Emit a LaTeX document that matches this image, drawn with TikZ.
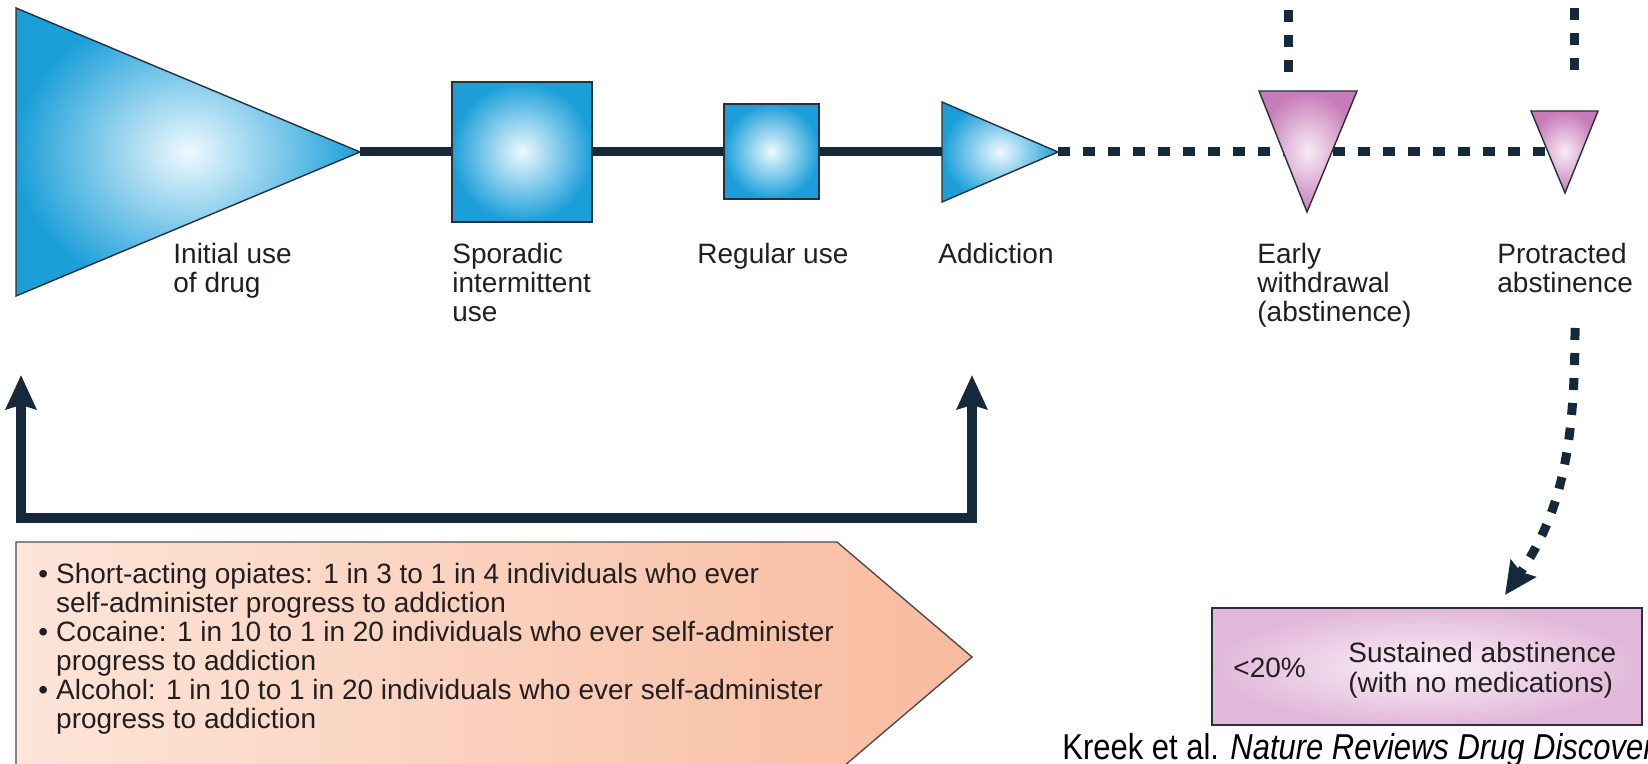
\documentclass[tikz,border=0pt]{standalone}
\usepackage{fontspec}
\setmainfont{Liberation Sans}
\newfontfamily\citefont{Liberation Sans}[FakeStretch=0.86]
\usetikzlibrary{arrows.meta}

\definecolor{ink}{HTML}{16293A}
\definecolor{edge}{HTML}{2A2F36}
\definecolor{blueout}{HTML}{1C9FD9}
\definecolor{bluein}{HTML}{EEF9FE}
\definecolor{pinkout}{HTML}{C77BB8}
\definecolor{pinkin}{HTML}{F8EDF6}
\definecolor{boxout}{HTML}{E2B8DA}
\definecolor{boxin}{HTML}{FAF1F8}
\definecolor{peachleft}{HTML}{FDE5D9}
\definecolor{peachright}{HTML}{F8BB9F}
\definecolor{txt}{HTML}{231F20}

\tikzset{
  bluestage/.style={draw=edge, line width=0.7pt, inner color=bluein, outer color=blueout},
  pinkstage/.style={draw=edge, line width=0.7pt, inner color=pinkin, outer color=pinkout},
  solidlink/.style={draw=ink, line width=4.5pt},
  dashlink/.style={draw=ink, line width=4.5pt, dash pattern=on 6pt off 6.5pt},
  stagetext/.style={anchor=north west, inner sep=0pt, align=left, text=txt,
    font=\fontsize{14}{14.5}\selectfont},
  feedback/.style={draw=ink, line width=5pt, line join=miter,
    {Stealth[length=17pt,width=15pt,inset=2pt]}-{Stealth[length=17pt,width=15pt,inset=2pt]}},
}

\begin{document}
\begin{tikzpicture}[x=0.5pt,y=-0.5pt]
\useasboundingbox (0,0) rectangle (1648,764);
\fill[white] (0,0) rectangle (1648,764);
\clip (0,0) rectangle (1648,764);

% ---- stage geometry
\coordinate (t1a) at (16,8);
\coordinate (t1b) at (16,296);
\coordinate (t1tip) at (360,152);
\coordinate (s1nw) at (452,82);
\coordinate (s1se) at (592,222);
\coordinate (s2nw) at (724,104);
\coordinate (s2se) at (819,199);
\coordinate (tAa) at (942,102);
\coordinate (tAb) at (942,202);
\coordinate (tAin) at (942,152);
\coordinate (tAtip) at (1058,152);
\coordinate (p1a) at (1259,91);
\coordinate (p1b) at (1357,91);
\coordinate (p1tip) at (1307,212);
\coordinate (p1mid) at (1307,152);
\coordinate (p2a) at (1531,111);
\coordinate (p2b) at (1598,111);
\coordinate (p2tip) at (1565,193);
\coordinate (p2mid) at (1565,152);

% ---- connectors behind the stages
\draw[solidlink] (t1tip) -- (tAin);
\draw[dashlink] (tAtip) -- (p1mid) -- (p2mid);

\coordinate (w1end) at (1288,72);
\coordinate (w1in) at (1288,-12);
\coordinate (w2end) at (1574,70);
\coordinate (w2in) at (1574,-12);
\draw[dashlink] (w1end) -- (w1in);
\draw[dashlink] (w2end) -- (w2in);

\coordinate (c0) at (1575,328);
\coordinate (c1) at (1505,595);
\draw[dashlink, -{Stealth[length=16pt,width=15pt,inset=2pt]}]
  (c0) .. controls (1575,450) and (1560,515) .. (c1);

% ---- stages
\shade[bluestage] (t1a) -- (t1b) -- (t1tip) -- cycle;
\shade[bluestage] (s1nw) rectangle (s1se);
\shade[bluestage] (s2nw) rectangle (s2se);
\shade[bluestage] (tAa) -- (tAb) -- (tAtip) -- cycle;
\shade[pinkstage] (p1a) -- (p1b) -- (p1tip) -- cycle;
\shade[pinkstage] (p2a) -- (p2b) -- (p2tip) -- cycle;

% ---- stage captions
\node[stagetext] (l1) at (173,243) {Initial use\\of drug};
\node[stagetext] (l2) at (452,243) {Sporadic\\intermittent\\use};
\node[stagetext] (l3) at (697,243) {Regular use};
\node[stagetext] (l4) at (938,243) {Addiction};
\node[stagetext] (l5) at (1257,243) {Early\\withdrawal\\(abstinence)};
\node[stagetext] (l6) at (1497,243) {Protracted\\abstinence};

% ---- feedback bracket
\coordinate (fbL) at (21,375);
\coordinate (fbLc) at (21,518);
\coordinate (fbRc) at (972,518);
\coordinate (fbR) at (972,375);
\draw[feedback] (fbL) -- (fbLc) -- (fbRc) -- (fbR);

% ---- progression rates panel
\coordinate (g1) at (16,542);
\coordinate (g2) at (837,542);
\coordinate (g3) at (972,657);
\coordinate (g4) at (837,772);
\coordinate (g5) at (16,772);
\shade[draw=edge!85, line width=0.7pt, left color=peachleft, right color=peachright]
  (g1) -- (g2) -- (g3) -- (g4) -- (g5) -- cycle;
\node[anchor=north west, inner sep=0pt, text=txt, font=\fontsize{14}{14.5}\selectfont] (facts) at (38,563)
  {\begin{tabular}{@{}l@{\hspace{4pt}}l@{}}
   \textbullet & Short-acting opiates: 1 in 3 to 1 in 4 individuals who ever\\
               & self-administer progress to addiction\\
   \textbullet & Cocaine: 1 in 10 to 1 in 20 individuals who ever self-administer\\
               & progress to addiction\\
   \textbullet & Alcohol: 1 in 10 to 1 in 20 individuals who ever self-administer\\
               & progress to addiction
   \end{tabular}};

% ---- outcome box
\coordinate (ob1) at (1212,608);
\coordinate (ob2) at (1642,725);
\shade[draw=edge, line width=0.9pt, inner color=boxin, outer color=boxout] (ob1) rectangle (ob2);
\node[anchor=base west, inner sep=0pt, text=txt, font=\fontsize{14}{14.5}\selectfont] (pct) at (1233,677) {<20\%};
\node[stagetext, font=\fontsize{14}{15}\selectfont] (sust) at (1348,642) {Sustained abstinence\\(with no medications)};

% ---- source line
\node[anchor=base west, inner sep=0pt, text=black, font=\citefont\fontsize{18}{18}\selectfont] (cite) at (1062,759)
  {Kreek et al. \textit{Nature Reviews Drug Discovery}};
\end{tikzpicture}
\end{document}
